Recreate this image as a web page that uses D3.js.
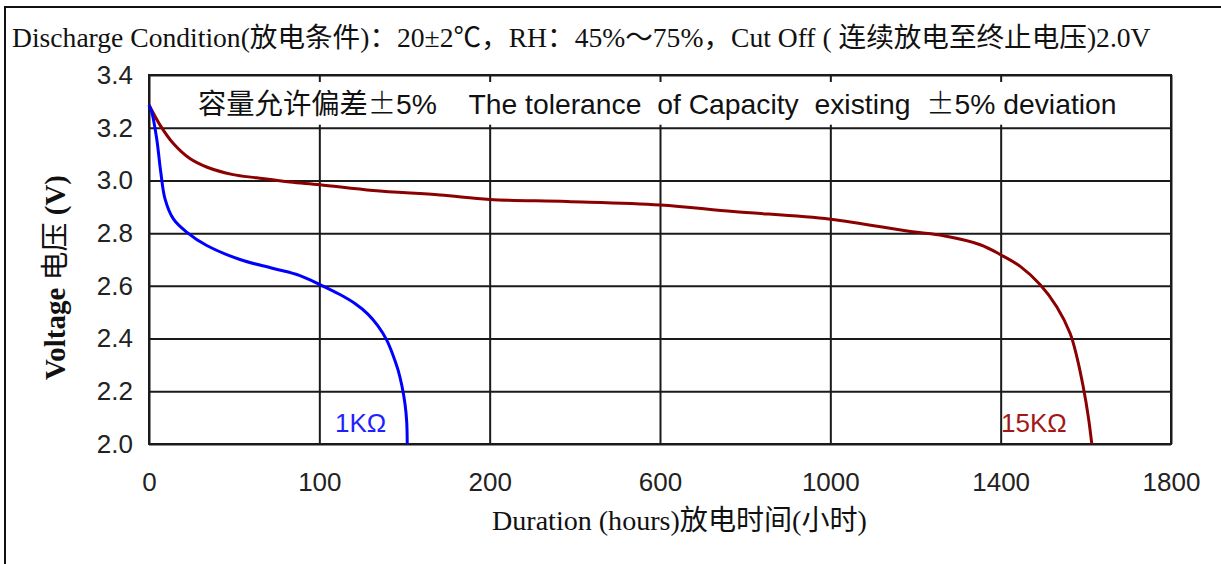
<!DOCTYPE html>
<html>
<head>
<meta charset="utf-8">
<script src="https://cdn.jsdelivr.net/npm/d3@7"></script>
<style>
body { margin: 0; background: #fff; }
svg { display: block; }
</style>
</head>
<body>
<div id="container"></div>
<script>
// x axis is not linear: equal spacing between these labels
var HOUR_TICKS = [0, 100, 200, 600, 1000, 1400, 1800];
var VOLT_TICKS = [2.0, 2.2, 2.4, 2.6, 2.8, 3.0, 3.2, 3.4];

// 1K ohm load
var HOURS_1K = [0, 1.6, 4.5, 6.9, 9.4, 14.3, 22.1, 33.9, 53.4, 73, 88.6, 100.3, 112.1, 120.9, 128.5, 134.4, 139.5, 143.2, 146.2, 148.5, 150.3, 151.3, 151.6];
var VOLT_1K  = [3.286, 3.26, 3.159, 3.032, 2.93, 2.854, 2.804, 2.753, 2.70, 2.666, 2.639, 2.605, 2.567, 2.533, 2.493, 2.448, 2.395, 2.338, 2.281, 2.22, 2.152, 2.084, 2.0];

// 15K ohm load
var HOURS_15K = [0, 6.5, 14.3, 24, 33.8, 49.4, 63.2, 82.7, 100.3, 131.6, 170.9, 200, 381, 600, 772, 1000, 1188, 1266, 1352, 1400, 1446, 1493, 1532, 1563, 1579, 1594, 1606, 1614];
var VOLT_15K  = [3.286, 3.21, 3.14, 3.083, 3.051, 3.022, 3.01, 2.994, 2.984, 2.962, 2.945, 2.928, 2.92, 2.907, 2.882, 2.853, 2.806, 2.79, 2.756, 2.718, 2.674, 2.604, 2.52, 2.42, 2.33, 2.216, 2.101, 2.0];

var TITLE = "Discharge Condition(放电条件)：20±2℃，RH：45%～75%，Cut Off ( 连续放电至终止电压)2.0V";
var NOTE = "容量允许偏差±5%    The tolerance  of Capacity  existing  ±5% deviation";
var XLABEL = "Duration (hours)放电时间(小时)";
var YLABEL_EN = "Voltage ", YLABEL_CN = "电压", YLABEL_UNIT = " (V)";

var WIDTH = 1221, HEIGHT = 564;
var LEFT = 149, TOP = 75, RIGHT = 1171, BOTTOM = 444;

var SERIF = "'Liberation Serif', 'Noto Sans CJK SC', serif";
var SANS = "'Liberation Sans', Arial, 'Noto Sans CJK SC', sans-serif";
var CJK = "'Noto Sans CJK SC', sans-serif";

var fit = function( sel, target )
{
    var w = sel.node().getComputedTextLength();
    var fs = parseFloat(sel.attr("font-size"));
    sel.attr("font-size", fs * target / w);
}

var zip = function( xs, ys )
{
    return xs.map(function(x, i){ return [x, ys[i]]; });
}

var draw = function()
{
    var svg = d3.select("#container").append("svg")
	.attr("width", WIDTH)
	.attr("height", HEIGHT);

    var w = RIGHT - LEFT, h = BOTTOM - TOP;

    var x = d3.scaleLinear()
	.domain(HOUR_TICKS)
	.range(HOUR_TICKS.map(function(_, i){ return i * w / (HOUR_TICKS.length - 1); }));

    var y = d3.scaleLinear()
	.domain([2.0, 3.4])
	.range([h, 0]);

    // outer frame (runs off the page right and bottom)
    svg.append("rect")
	.attr("x", 5).attr("y", 7)
	.attr("width", WIDTH + 20).attr("height", HEIGHT + 20)
	.attr("fill", "none")
	.attr("stroke", "#111")
	.attr("stroke-width", 2);

    svg.append("text")
	.attr("x", 12).attr("y", 47)
	.attr("font-family", SERIF)
	.attr("font-size", 24)
	.attr("fill", "#111")
	.text(TITLE)
	.call(fit, 1139);

    var g = svg.append("g")
	.attr("transform", "translate(" + LEFT + "," + TOP + ")");

    var yAxis = g.append("g")
	.call(d3.axisLeft(y)
	      .tickValues(VOLT_TICKS)
	      .tickFormat(d3.format(".1f"))
	      .tickSize(-w)
	      .tickPadding(16));

    var xAxis = g.append("g")
	.attr("transform", "translate(0," + h + ")")
	.call(d3.axisBottom(x)
	      .tickValues(HOUR_TICKS)
	      .tickFormat(d3.format("d"))
	      .tickSize(-h)
	      .tickPadding(29));

    [yAxis, xAxis].forEach(function(ax){
	ax.select(".domain").remove();
	ax.selectAll(".tick line")
	    .attr("stroke", "#1a1a1a")
	    .attr("stroke-width", 2);
	ax.selectAll(".tick text")
	    .attr("font-family", SANS)
	    .attr("font-size", 26)
	    .attr("fill", "#222");
    });

    // white band behind the tolerance note
    g.append("rect")
	.attr("x", 2).attr("y", 7)
	.attr("width", w - 4).attr("height", y(3.2) - 10)
	.attr("fill", "#fff");

    g.append("rect")
	.attr("width", w).attr("height", h)
	.attr("fill", "none")
	.attr("stroke", "#1a1a1a")
	.attr("stroke-width", 2);

    // note: the ± signs are full width
    var note = g.append("text")
	.attr("x", 198 - LEFT).attr("y", 114 - TOP)
	.attr("font-family", SANS)
	.attr("font-size", 24)
	.attr("fill", "#111")
	.style("white-space", "pre");
    NOTE.split("±").forEach(function(part, i){
	if ( i > 0 )
	    note.append("tspan").attr("font-family", CJK).attr("font-weight", 300).text("±");
	note.append("tspan").text(part);
    });
    note.call(fit, 919);

    var line = d3.line()
	.x(function(d){ return x(d[0]); })
	.y(function(d){ return y(d[1]); })
	.curve(d3.curveCatmullRom.alpha(0.5));

    g.append("path")
	.datum(zip(HOURS_15K, VOLT_15K))
	.attr("d", line)
	.attr("fill", "none")
	.attr("stroke", "#8b0000")
	.attr("stroke-width", 3);

    g.append("path")
	.datum(zip(HOURS_1K, VOLT_1K))
	.attr("d", line)
	.attr("fill", "none")
	.attr("stroke", "#0000ff")
	.attr("stroke-width", 3);

    g.append("text")
	.attr("x", 335 - LEFT).attr("y", 432 - TOP)
	.attr("font-family", SANS)
	.attr("font-size", 26)
	.attr("fill", "#1f1fff")
	.text("1KΩ");

    g.append("text")
	.attr("x", 1001 - LEFT).attr("y", 432 - TOP)
	.attr("font-family", SANS)
	.attr("font-size", 26)
	.attr("fill", "#a01818")
	.text("15KΩ");

    svg.append("text")
	.attr("x", 492).attr("y", 530)
	.attr("font-family", SERIF)
	.attr("font-size", 26)
	.attr("fill", "#111")
	.text(XLABEL)
	.call(fit, 375);

    var ylab = svg.append("text")
	.attr("transform", "translate(65,277.5) rotate(-90)")
	.attr("text-anchor", "middle")
	.attr("font-family", SERIF)
	.attr("font-weight", "bold")
	.attr("font-size", 24)
	.attr("fill", "#111");
    ylab.append("tspan").text(YLABEL_EN);
    ylab.append("tspan").attr("font-family", CJK).attr("font-weight", 400).text(YLABEL_CN);
    ylab.append("tspan").text(YLABEL_UNIT);
    ylab.call(fit, 205);
}

draw();
</script>
</body>
</html>
